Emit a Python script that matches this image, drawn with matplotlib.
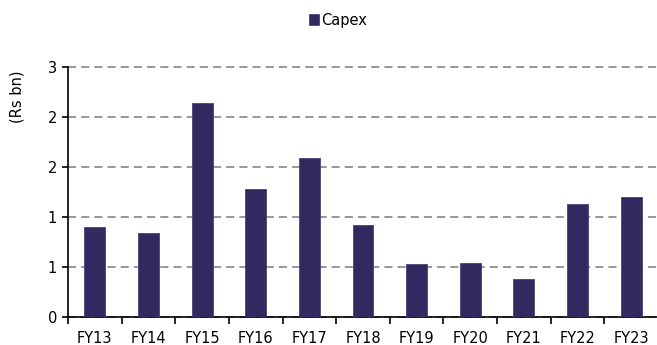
import numpy as np
import matplotlib.pyplot as plt

# capex by fiscal year
years = ['FY13', 'FY14', 'FY15', 'FY16', 'FY17', 'FY18', 'FY19', 'FY20', 'FY21', 'FY22', 'FY23']
capex = [0.90, 0.84, 2.14, 1.28, 1.59, 0.92, 0.535, 0.54, 0.38, 1.13, 1.20]
ytick_vals = [0, 0.5, 1.0, 1.5, 2.0, 2.5]
ytick_labels = ['0', '1', '1', '2', '2', '3']

bar_color = '#31295f'

plt.rcParams['font.family'] = 'DejaVu Sans'
fig = plt.figure(figsize=(6.57, 3.45), dpi=100)
ax = fig.add_axes([68 / 657, 1 - 317 / 345, 590 / 657, 250 / 345])

x = np.arange(len(years))
bars = ax.bar(x, capex, width=0.39, color=bar_color, edgecolor='#4a4378',
              linewidth=0.6, label='Capex', zorder=3)

ax.set_xlim(-0.5, len(years) - 0.5)
ax.set_ylim(0, 2.5)
ax.set_yticks(ytick_vals)
ax.set_yticklabels(ytick_labels, fontsize=10.5)
ax.yaxis.grid(True, linestyle=(0, (4.5, 2.8)), color='#8f8f8f', linewidth=1.3, zorder=0)
ax.set_axisbelow(True)
for gl in ax.get_ygridlines():
    gl.set_clip_on(False)

# category labels centred on bars, ticks between categories
ax.set_xticks(x)
ax.set_xticklabels(years, fontsize=10.5)
ax.tick_params(axis='x', which='major', length=0, pad=10)
ax.set_xticks(np.arange(-0.5, len(years)), minor=True)
ax.tick_params(axis='x', which='minor', length=5, width=1.2, direction='out')
ax.tick_params(axis='y', length=4, width=1.2, direction='out', pad=4)

for side in ['top', 'right']:
    ax.spines[side].set_visible(False)
ax.spines['left'].set_linewidth(1.2)
ax.spines['bottom'].set_linewidth(1.2)

fig.text(17 / 657, 1 - 97 / 345, '(Rs bn)', rotation=90, ha='center', va='center', fontsize=10.5)

fig.legend(handles=[bars], labels=['Capex'], loc='center', bbox_to_anchor=(338 / 657, 1 - 20 / 345),
           frameon=False, fontsize=10.5, handlelength=0.7, handleheight=0.7, handletextpad=0.2)

fig.savefig('out.png', dpi=100)
